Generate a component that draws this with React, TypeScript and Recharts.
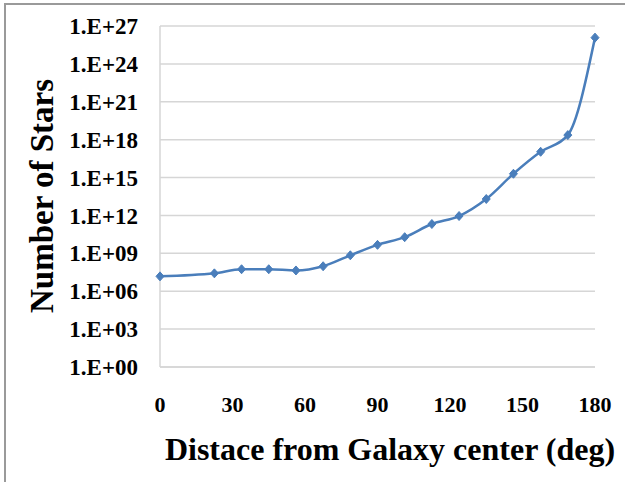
import React from 'react';
import { LineChart, Line, XAxis, YAxis, CartesianGrid, Label } from 'recharts';

const distances = [0, 22.5, 33.75, 45, 56.25, 67.5, 78.75, 90, 101.25, 112.5, 123.75, 135, 146.25, 157.5, 168.75, 180];
const stars = [1.5e7, 2.6e7, 5.5e7, 5.5e7, 4.4e7, 9.5e7, 7e8, 4.7e9, 1.9e10, 2.1e11, 9e11, 2e13, 2e15, 1.1e17, 2.3e18, 1.2e26];
const xTicks = [0, 30, 60, 90, 120, 150, 180];
const yTicks = [1, 1e3, 1e6, 1e9, 1e12, 1e15, 1e18, 1e21, 1e24, 1e27];

const data = distances.map((d, i) => ({ d, n: stars[i] }));

const FONT = '"Liberation Serif", "Times New Roman", serif';
const BLUE = '#4a7ebb';
const GRID = '#d6d6d6';

const fmtY = (v: number) => {
  const e = Math.round(Math.log10(v));
  return `1.E+${String(e).padStart(2, '0')}`;
};

const YTick = (props: any) => {
  const { x, y, payload } = props;
  return (
    <text x={x} y={y} dy="0.355em" textAnchor="end" fontFamily={FONT} fontWeight="bold" fontSize={23} fill="#000">
      {fmtY(payload.value)}
    </text>
  );
};

const XTick = (props: any) => {
  const { x, y, payload } = props;
  return (
    <text x={x} y={y} dy="0.71em" textAnchor="middle" fontFamily={FONT} fontWeight="bold" fontSize={22} fill="#000">
      {payload.value}
    </text>
  );
};

const Diamond = (props: any) => {
  const { cx, cy } = props;
  if (cx == null || cy == null) return null;
  const w = 4, h = 4.5;
  return (
    <polygon
      points={`${cx},${cy - h} ${cx + w},${cy} ${cx},${cy + h} ${cx - w},${cy}`}
      fill={BLUE}
      stroke={BLUE}
      strokeWidth={1}
    />
  );
};

export default function App() {
  return (
    <div style={{ position: 'absolute', left: 0, top: 0, width: 625, height: 482, background: '#fff', overflow: 'hidden' }}>
      <div style={{ position: 'absolute', left: 4, top: 3, width: 640, height: 500, borderLeft: '2px solid #9a9a9a', borderTop: '2px solid #9a9a9a' }} />
      <div style={{ position: 'absolute', left: 0, top: 0 }}>
        <LineChart width={625} height={482} data={data} margin={{ top: 26, right: 30, bottom: 0, left: 0 }}>
          <CartesianGrid vertical={false} stroke={GRID} strokeWidth={1.5} />
          <XAxis
            dataKey="d"
            type="number"
            domain={[0, 180]}
            ticks={xTicks}
            height={115}
            tickLine={false}
            tickSize={0}
            tickMargin={29}
            axisLine={{ stroke: GRID, strokeWidth: 1.5 }}
            tick={<XTick />}
            interval={0}
          >
            <Label
              content={() => (
                <text x={390} y={460} textAnchor="middle" fontFamily={FONT} fontWeight="bold" fontSize={32} fill="#000">
                  Distace from Galaxy center (deg)
                </text>
              )}
            />
          </XAxis>
          <YAxis
            type="number"
            scale="log"
            domain={[1, 1e27]}
            allowDataOverflow
            ticks={yTicks}
            width={160}
            tickLine={false}
            tickSize={0}
            tickMargin={22}
            axisLine={{ stroke: GRID, strokeWidth: 1.5 }}
            tick={<YTick />}
            interval={0}
          >
            <Label
              content={() => (
                <text
                  x={42}
                  y={196}
                  transform="rotate(-90, 42, 196)"
                  textAnchor="middle"
                  dominantBaseline="central"
                  fontFamily={FONT}
                  fontWeight="bold"
                  fontSize={33}
                  fill="#000"
                >
                  Number of Stars
                </text>
              )}
            />
          </YAxis>
          <Line
            dataKey="n"
            type="monotone"
            stroke={BLUE}
            strokeWidth={2.5}
            dot={<Diamond />}
            activeDot={false}
            isAnimationActive={false}
          />
        </LineChart>
      </div>
    </div>
  );
}
